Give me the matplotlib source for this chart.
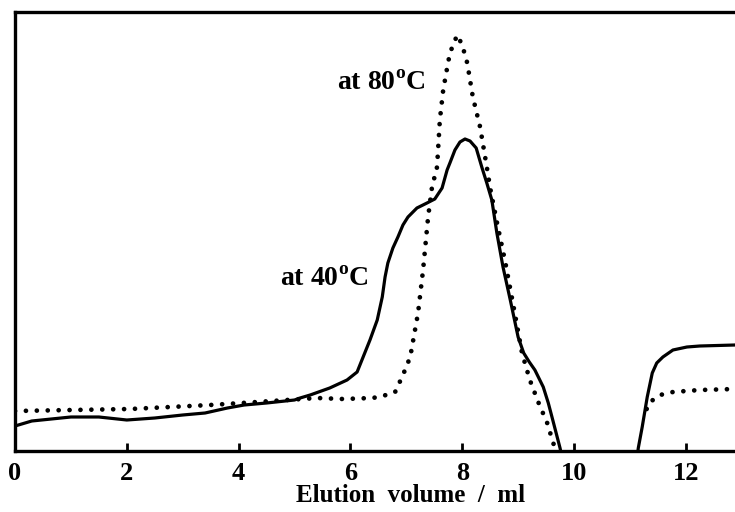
import numpy as np
import matplotlib
matplotlib.use("Agg")
import matplotlib.pyplot as plt

plt.rcParams['font.family'] = 'Liberation Serif'
plt.rcParams['font.weight'] = 'bold'
plt.rcParams['mathtext.fontset'] = 'custom'
plt.rcParams['mathtext.rm'] = 'Liberation Serif:bold'

# 40 C trace (solid), detector signal in arbitrary units
vol_40 = [0.0, 0.3, 1.0, 1.5, 2.0, 2.5, 3.0, 3.4, 3.8, 4.1, 4.5, 5.0, 5.1, 5.28,
          5.63, 5.94, 6.12, 6.35, 6.48, 6.57, 6.62, 6.67, 6.76, 6.85, 6.94, 7.03,
          7.19, 7.37, 7.51, 7.64, 7.73, 7.78, 7.87, 7.96, 8.05, 8.14, 8.25, 8.35,
          8.44, 8.53, 8.62, 8.73, 8.86, 9.0, 9.1, 9.2, 9.3, 9.45, 9.54, 9.62,
          9.75, 9.80,
          np.nan,
          11.12, 11.15, 11.22, 11.31, 11.40, 11.48, 11.59, 11.77, 12.02, 12.25, 12.88]
sig_40 = [25, 30, 34, 34, 31, 33, 36, 38, 43, 46, 48, 51, 53, 56,
          63, 71, 79, 111, 131, 154, 174, 188, 203, 214, 226, 234,
          243, 248, 252, 263, 281, 288, 301, 309, 312, 310, 303, 284,
          268, 251, 218, 184, 151, 114, 98, 89, 81, 64, 48, 31,
          3, -10,
          np.nan,
          -10, 3, 24, 54, 78, 88, 94, 101, 104, 105, 106]

# 80 C trace (dotted)
vol_80 = [0.0, 1.02, 2.06, 3.49, 4.06, 5.40, 5.87, 6.40, 6.58, 6.80, 6.94, 7.07,
          7.21, 7.30, 7.39, 7.46, 7.55, 7.60, 7.66, 7.73, 7.78, 7.91, 8.00, 8.09,
          8.19, 8.32, 8.44, 8.50, 8.62, 8.77, 8.93, 9.07, 9.21, 9.36, 9.52, 9.64, 9.70,
          np.nan,
          11.30, 11.36, 11.54, 11.77, 12.25, 12.88]
sig_80 = [40, 41, 42, 46, 48, 53, 52, 53, 55, 59, 76, 94,
          138, 181, 234, 264, 284, 331, 361, 383, 398, 416, 406, 388,
          354, 324, 284, 263, 229, 189, 141, 98, 71, 49, 28, 6, -5,
          np.nan,
          42, 49, 56, 59, 61, 62]

xticks = [0, 2, 4, 6, 8, 10, 12]

fig = plt.figure(figsize=(7.35, 5.12), dpi=100)
ax = fig.add_axes([15 / 735, 61 / 512, 1 - 15 / 735, 439 / 512])

ax.plot(vol_40, sig_40, color='black', lw=2.3, solid_capstyle='round',
        solid_joinstyle='round')
ax.plot(vol_80, sig_80, color='black', lw=3.4,
        linestyle=(0, (0.01, 2.3)), dash_capstyle='round')

ax.set_xlim(0, 12.88)
ax.set_ylim(0, 439)

ax.text(6.55, 367, r'at 80$^{\mathrm{o}}$C', fontsize=20, fontweight='bold',
        ha='center', va='center')
ax.text(5.53, 171, r'at 40$^{\mathrm{o}}$C', fontsize=20, fontweight='bold',
        ha='center', va='center')

ax.set_xticks(xticks)
ax.set_xticklabels([str(t) for t in xticks])
ax.tick_params(axis='x', direction='in', length=6, width=2, labelsize=19, pad=8)
ax.set_yticks([])
for s in ['left', 'bottom', 'top']:
    ax.spines[s].set_linewidth(2.4)
ax.spines['right'].set_visible(False)

ax.set_xlabel('Elution  volume  /  ml', fontsize=18, fontweight='bold')
ax.xaxis.set_label_coords(0.55, -0.075)

fig.savefig('out.png', dpi=100)
